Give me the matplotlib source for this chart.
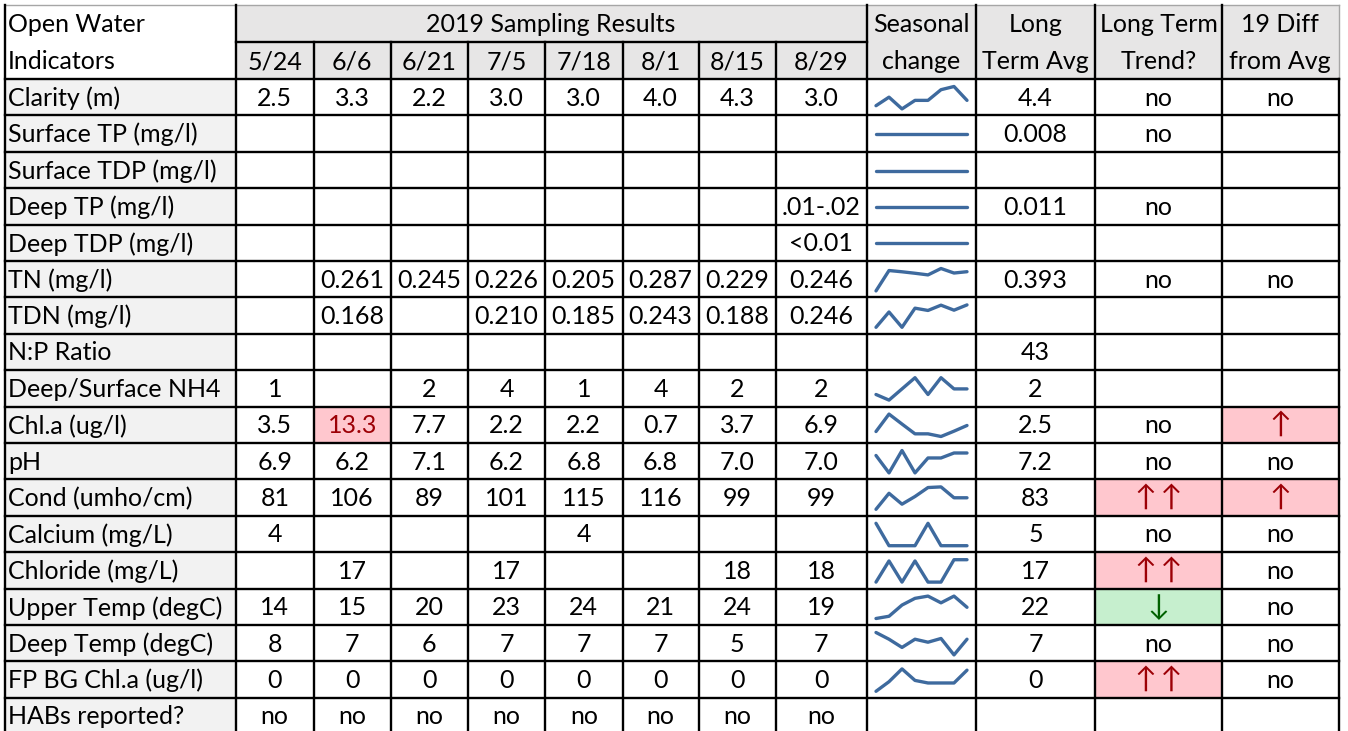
import matplotlib
matplotlib.use("Agg")
import matplotlib.pyplot as plt
from matplotlib.patches import Rectangle

# ---- data -------------------------------------------------------------
dates = ["5/24", "6/6", "6/21", "7/5", "7/18", "8/1", "8/15", "8/29"]

indicators = ["Clarity (m)", "Surface TP (mg/l)", "Surface TDP (mg/l)",
              "Deep TP (mg/l)", "Deep TDP (mg/l)", "TN (mg/l)", "TDN (mg/l)",
              "N:P Ratio", "Deep/Surface NH4", "Chl.a (ug/l)", "pH",
              "Cond (umho/cm)", "Calcium (mg/L)", "Chloride (mg/L)",
              "Upper Temp (degC)", "Deep Temp (degC)", "FP BG Chl.a (ug/l)",
              "HABs reported?"]

clarity = [2.5, 3.3, 2.2, 3.0, 3.0, 4.0, 4.3, 3.0]
surface_tp = [None] * 8
surface_tdp = [None] * 8
deep_tp = [None] * 7 + [".01-.02"]
deep_tdp = [None] * 7 + ["<0.01"]
tn = [None, 0.261, 0.245, 0.226, 0.205, 0.287, 0.229, 0.246]
tdn = [None, 0.168, None, 0.210, 0.185, 0.243, 0.188, 0.246]
np_ratio = [None] * 8
nh4 = [1, None, 2, 4, 1, 4, 2, 2]
chla = [3.5, 13.3, 7.7, 2.2, 2.2, 0.7, 3.7, 6.9]
ph = [6.9, 6.2, 7.1, 6.2, 6.8, 6.8, 7.0, 7.0]
cond = [81, 106, 89, 101, 115, 116, 99, 99]
calcium = [4, None, None, None, 4, None, None, None]
chloride = [None, 17, None, 17, None, None, 18, 18]
upper_temp = [14, 15, 20, 23, 24, 21, 24, 19]
deep_temp = [8.0, 7.1, 6.0, 7.1, 6.7, 7.2, 5.0, 7.1]
fp_bg_chla = [0.0, 0.15, 0.35, 0.17, 0.13, 0.13, 0.13, 0.33]
habs = ["no"] * 8

results = [clarity, surface_tp, surface_tdp, deep_tp, deep_tdp, tn, tdn,
           np_ratio, nh4, chla, ph, cond, calcium, chloride, upper_temp,
           deep_temp, fp_bg_chla, habs]
formats = ["{:.1f}", "{}", "{}", "{}", "{}", "{:.3f}", "{:.3f}", "{}", "{:.0f}",
           "{:.1f}", "{:.1f}", "{:.0f}", "{:.0f}", "{:.0f}", "{:.0f}", "{:.0f}",
           "{:.0f}", "{}"]
has_spark = [True, True, True, True, True, True, True, False, True, True, True,
             True, True, True, True, True, True, False]

long_term_avg = ["4.4", "0.008", "", "0.011", "", "0.393", "", "43", "2", "2.5",
                 "7.2", "83", "5", "17", "22", "7", "0", ""]
long_term_trend = ["no", "no", "", "no", "", "no", "", "", "", "no", "no",
                   "\u2191\u2009\u2191", "no", "\u2191\u2009\u2191", "\u2193",
                   "no", "\u2191\u2009\u2191", ""]
diff_from_avg = ["no", "", "", "", "", "no", "", "", "", "\u2191", "no", "\u2191",
                 "no", "no", "no", "no", "no", ""]

# highlighted cells: (row, column key) -> style
highlights = {(9, 1): "bad", (9, "diff"): "bad", (11, "trend"): "bad",
              (11, "diff"): "bad", (13, "trend"): "bad", (14, "trend"): "good",
              (16, "trend"): "bad"}

# ---- layout (pixels) --------------------------------------------------
W, H = 1348, 731
col_x = [5, 235.5, 314, 390.5, 468, 545, 622.5, 698.5, 776, 866.5, 976,
         1095, 1222, 1338.5]
hdr_y = [5, 42, 79]
row_h = 36.4
row_y = [79 + i * row_h for i in range(len(indicators) + 1)]

HDR_FILL = "#E7E6E6"
LBL_FILL = "#F2F2F2"
BAD_FILL, BAD_TXT = "#FFC7CE", "#9C0006"
GOOD_FILL, GOOD_TXT = "#C6EFCE", "#006100"
SPARK = "#3E6A9E"
LW = 1.7

plt.rcParams["font.family"] = ["Lato", "DejaVu Sans"]
FS = 18

fig = plt.figure(figsize=(W / 100, H / 100), dpi=100)
ax = fig.add_axes([0, 0, 1, 1])
ax.set_xlim(0, W)
ax.set_ylim(H, 0)
ax.axis("off")


def fill(x0, x1, y0, y1, color):
    ax.add_patch(Rectangle((x0, y0), x1 - x0, y1 - y0, facecolor=color,
                           edgecolor="none", zorder=1))


def put(x, y, s, color="black", ha="center", fs=FS):
    ax.text(x, y + 1, s, ha=ha, va="center", fontsize=fs, color=color, zorder=3)


# header fills + text
fill(col_x[1], col_x[-1], hdr_y[0], hdr_y[2], HDR_FILL)
put(8, (hdr_y[0] + hdr_y[1]) / 2, "Open Water", ha="left")
put(8, (hdr_y[1] + hdr_y[2]) / 2, "Indicators", ha="left")
put((col_x[1] + col_x[9]) / 2, (hdr_y[0] + hdr_y[1]) / 2, "2019 Sampling Results")
for j, d in enumerate(dates):
    put((col_x[j + 1] + col_x[j + 2]) / 2, (hdr_y[1] + hdr_y[2]) / 2, d)
for k, (t1, t2) in enumerate([("Seasonal", "change"), ("Long", "Term Avg"),
                              ("Long Term", "Trend?"), ("19 Diff", "from Avg")]):
    xc = (col_x[9 + k] + col_x[10 + k]) / 2
    put(xc, (hdr_y[0] + hdr_y[1]) / 2, t1)
    put(xc, (hdr_y[1] + hdr_y[2]) / 2, t2)

# body
extra_cols = {"avg": (10, long_term_avg), "trend": (11, long_term_trend),
              "diff": (12, diff_from_avg)}
for i, name in enumerate(indicators):
    y0, y1 = row_y[i], row_y[i + 1]
    yc = (y0 + y1) / 2
    fill(col_x[0], col_x[1], y0, y1, LBL_FILL)
    put(8, yc, name, ha="left")
    for j, v in enumerate(results[i]):
        if v is None:
            continue
        s = v if isinstance(v, str) else formats[i].format(v)
        style = highlights.get((i, j))
        color = "black"
        if style:
            fill(col_x[j + 1], col_x[j + 2], y0, y1,
                 BAD_FILL if style == "bad" else GOOD_FILL)
            color = BAD_TXT if style == "bad" else GOOD_TXT
        put((col_x[j + 1] + col_x[j + 2]) / 2, yc, s, color=color)
    for key, (c, vals) in extra_cols.items():
        style = highlights.get((i, key))
        color = "black"
        if style:
            fill(col_x[c], col_x[c + 1], y0, y1,
                 BAD_FILL if style == "bad" else GOOD_FILL)
            color = BAD_TXT if style == "bad" else GOOD_TXT
        if vals[i]:
            arrow = vals[i][0] in "\u2191\u2193"
            put((col_x[c] + col_x[c + 1]) / 2, yc - (1 if arrow else 0), vals[i],
                color=color, fs=FS + 3 if arrow else FS)

    # sparkline in its own little axes
    if has_spark[i]:
        ys = [v if isinstance(v, (int, float)) else 0 for v in results[i]]
        sx0, sx1 = col_x[9] + 9.5, col_x[10] - 9
        sy0, sy1 = y0 + 7.5, y1 - 6.5
        sax = fig.add_axes([sx0 / W, 1 - sy1 / H, (sx1 - sx0) / W, (sy1 - sy0) / H])
        sax.plot(range(len(ys)), ys, color=SPARK, lw=2.4, clip_on=False,
                 solid_joinstyle="round", solid_capstyle="round")
        sax.set_xlim(0, len(ys) - 1)
        if min(ys) != max(ys):
            sax.set_ylim(min(ys), max(ys))
        sax.axis("off")

# borders
kw = dict(color="black", lw=LW, zorder=4, solid_capstyle="projecting")
grey = dict(color="#A6A6A6", lw=1.0, zorder=4)
ax.plot([col_x[0], col_x[-1]], [hdr_y[0], hdr_y[0]], **grey)
ax.plot([col_x[-1], col_x[-1]], [hdr_y[0], hdr_y[2]], **grey)
ax.plot([col_x[1], col_x[9]], [hdr_y[1], hdr_y[1]], **kw)
for y in row_y:
    ax.plot([col_x[0], col_x[-1]], [y, y], **kw)
for j, x in enumerate(col_x):
    if j == len(col_x) - 1:
        top = hdr_y[2]
    elif 2 <= j <= 8:
        top = hdr_y[1]
    else:
        top = hdr_y[0]
    ax.plot([x, x], [top, H + 5], **kw)

fig.savefig("out.png", dpi=100)
